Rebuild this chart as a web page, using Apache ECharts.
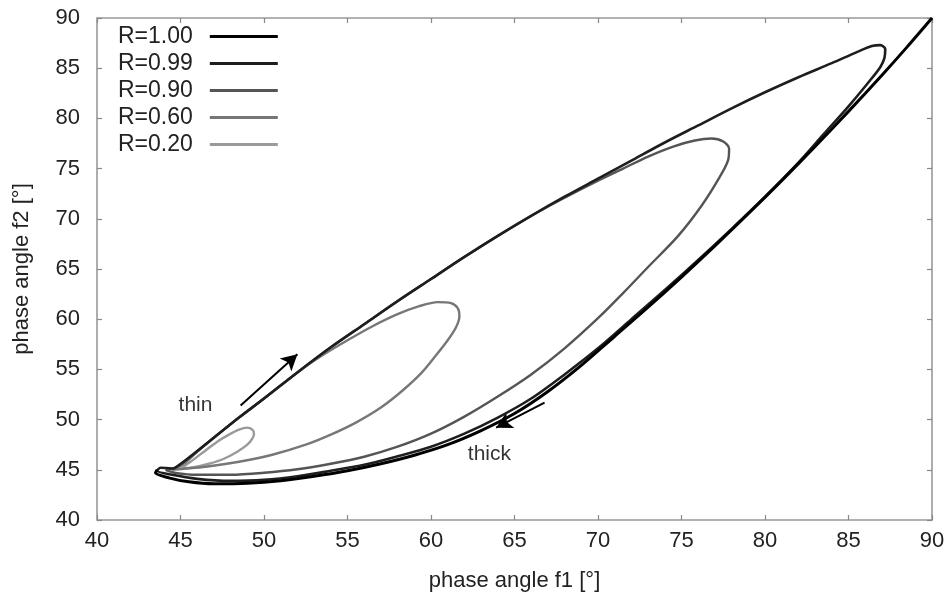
<!DOCTYPE html>
<html>
<head>
    <meta charset="utf-8">
    <script src="https://cdn.jsdelivr.net/npm/echarts@6/dist/echarts.min.js"></script>
</head>
<body style="margin:0">
    <div id="main" style="width:949px; height:598px;"></div>
</body>
<script type="text/javascript">
    // phase angle loops, f1 vs f2, one loop per R
    const names = ['R=1.00', 'R=0.99', 'R=0.90', 'R=0.60', 'R=0.20'];
    const colors = ['#000000', '#1e1e1e', '#555555', '#777777', '#9a9a9a'];

    const r100 = [[90,90],[88.5,87.1],[87,84.3],[85,80.7],[83,77.2],[81,73.8],[79,70.5],[77,67.3],[75,64.2],
        [73,61.2],[71,58.3],[69,55.4],[67,52.8],[65,50.6],[63,48.9],[61,47.5],[59,46.45],[57,45.6],[55,44.9],
        [53,44.35],[51,43.9],[49,43.65],[47,43.6],[45.5,43.8],[44.3,44.2],[43.5,44.7],[43.6,45.0]];

    const r099 = [[44.6,45.1],[45.5,46.2],[47,48.2],[48.5,50.2],[50,52.1],[52,54.7],[54,57.2],[56,59.5],
        [58,61.8],[60,64.0],[62,66.2],[64,68.3],[66,70.3],[68,72.2],[70,74.0],[72,75.8],[74,77.6],[76,79.3],
        [78,81.0],[80,82.6],[82,84.1],[84,85.5],[85.5,86.6],[86.4,87.2],[86.9,87.3],[87.2,86.9],[87.15,86.0],
        [86.9,85.1],[86.2,83.6],[85,81.2],[83.5,78.4],[82,75.6],[80,72.2],[78,69.0],[76,65.9],[74,62.9],
        [72,60.0],[70,57.1],[68,54.5],[66,52.1],[64,50.2],[62,48.6],[60,47.3],[58,46.35],[56,45.5],[54,44.9],
        [52,44.35],[50,44.0],[48,43.9],[46,44.1],[44.5,44.5],[43.6,44.9],[43.8,45.2],[44.6,45.1]];

    const r090 = [[44.1,45.0],[44.8,45.3],[45.5,46.2],[47,48.2],[48.5,50.2],[50,52.1],[52,54.7],[54,57.2],
        [56,59.5],[58,61.8],[60,64.0],[62,66.2],[64,68.3],[66,70.3],[68,72.1],[70,73.8],[71.5,75.0],[73,76.2],
        [74.5,77.2],[75.8,77.8],[76.8,78.0],[77.5,77.7],[77.85,77.0],[77.8,75.9],[77.3,74.2],[76.2,71.3],
        [74.8,68.3],[73,65.2],[71.5,62.6],[70,60.1],[68,57.1],[66,54.5],[64,52.3],[62,50.3],[60,48.6],
        [58,47.3],[56,46.3],[54,45.6],[52,45.05],[50,44.7],[48,44.5],[46,44.5],[44.7,44.7],[44.1,45.0]];

    const r060 = [[44.5,45.0],[45.2,45.6],[46,46.8],[47,48.2],[48.5,50.2],[50,52.1],[52,54.7],[53.5,56.4],
        [55,57.9],[56.5,59.3],[58,60.5],[59.3,61.3],[60.4,61.7],[61.2,61.6],[61.6,61.1],[61.7,60.3],
        [61.5,59.2],[61.0,57.9],[60.3,56.4],[59.4,54.6],[58.3,52.9],[57,51.2],[55.5,49.7],[54,48.5],
        [52.5,47.5],[50.5,46.5],[48.5,45.8],[46.5,45.3],[45.2,45.1],[44.5,45.0]];

    const r020 = [[45.0,45.1],[45.6,45.8],[46.4,46.8],[47.2,47.8],[47.9,48.5],[48.5,49.0],[49.0,49.2],
        [49.3,49.0],[49.4,48.6],[49.3,48.1],[49.0,47.5],[48.4,46.8],[47.6,46.1],[46.7,45.6],[45.8,45.25],
        [45.0,45.1]];

    const loops = [r100, r099, r090, r060, r020];
    const widths = [3, 2.6, 2.4, 2.4, 2.4];

    // direction arrows and their words
    const arrows = [
        [[48.6, 51.4], [52.0, 56.5]],
        [[66.8, 51.7], [63.9, 49.2]]
    ];
    const notes = [
        {name: 'thin', value: [45.9, 51.4]},
        {name: 'thick', value: [63.5, 46.6]}
    ];

    const font = 'Liberation Sans, Arial, sans-serif';
    const chart = echarts.init(document.getElementById('main'));

    const series = loops.map((d, i) => ({
        type: 'line',
        name: names[i],
        data: d,
        showSymbol: false,
        smooth: 0.3,
        z: 10 - i,
        lineStyle: {color: colors[i], width: widths[i]},
        itemStyle: {color: colors[i]}
    }));

    series.push({
        type: 'line',
        name: 'arrows',
        data: [],
        markLine: {
            silent: true,
            symbol: ['none', 'arrow'],
            symbolSize: [13, 16],
            label: {show: false},
            lineStyle: {color: '#000', width: 2, type: 'solid'},
            data: arrows.map(a => [{coord: a[0]}, {coord: a[1]}])
        }
    });

    series.push({
        type: 'scatter',
        name: 'notes',
        data: notes,
        symbolSize: 0,
        label: {
            show: true,
            formatter: p => p.name,
            position: 'inside',
            color: '#000',
            fontSize: 21,
            fontFamily: font
        }
    });

    const axisBase = {
        type: 'value',
        min: 40,
        max: 90,
        interval: 5,
        splitLine: {show: false},
        axisLine: {show: false},
        axisTick: {show: true, inside: true, length: 5, lineStyle: {color: '#888', width: 1.2}}
    };

    const option = {
        backgroundColor: '#fff',
        animation: false,
        grid: {left: 97, right: 17, top: 18, bottom: 78, show: true, borderColor: '#999', borderWidth: 1.6},
        legend: {
            data: names,
            orient: 'vertical',
            left: 113,
            top: 20,
            align: 'right',
            icon: 'rect',
            itemWidth: 68,
            itemHeight: 3,
            itemGap: 4,
            textStyle: {fontSize: 23, lineHeight: 23, fontFamily: font, color: '#222', padding: [0, 12, 0, 0]}
        },
        xAxis: [
            Object.assign({}, axisBase, {
                position: 'bottom',
                name: 'phase angle f1 [°]',
                nameLocation: 'middle',
                nameGap: 50,
                nameTextStyle: {fontSize: 22, fontFamily: font, color: '#222'},
                axisLabel: {fontSize: 22, fontFamily: font, color: '#222', margin: 10}
            }),
            Object.assign({}, axisBase, {position: 'top', axisLabel: {show: false}})
        ],
        yAxis: [
            Object.assign({}, axisBase, {
                position: 'left',
                name: 'phase angle f2 [°]',
                nameLocation: 'middle',
                nameGap: 64,
                nameTextStyle: {fontSize: 22, fontFamily: font, color: '#222'},
                axisLabel: {fontSize: 22, fontFamily: font, color: '#222', margin: 17}
            }),
            Object.assign({}, axisBase, {position: 'right', axisLabel: {show: false}})
        ],
        series: series
    };
    chart.setOption(option);
</script>
</html>
